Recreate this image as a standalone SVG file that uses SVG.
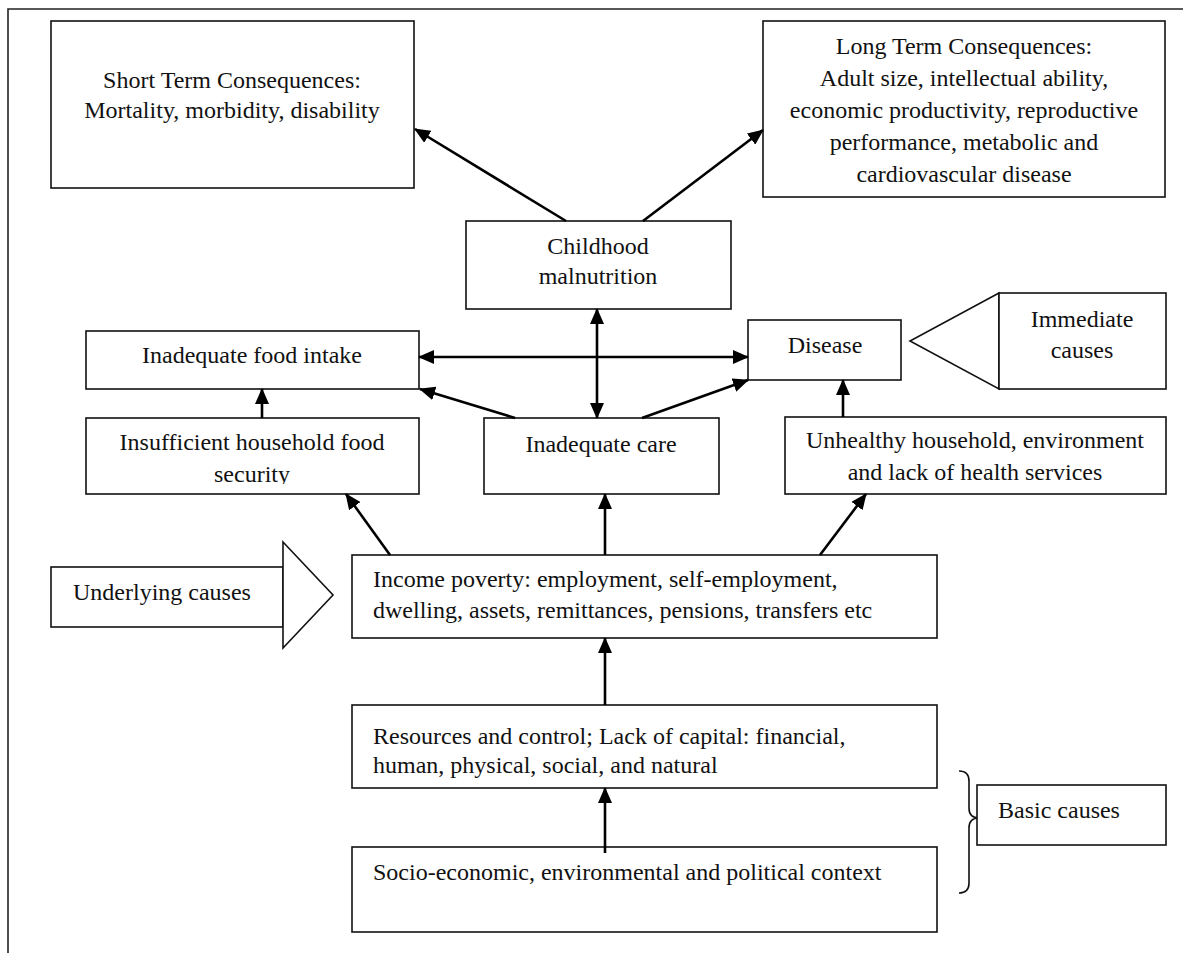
<svg xmlns="http://www.w3.org/2000/svg" width="1183" height="953" viewBox="0 0 1183 953">
<defs>
<style>
.box{fill:#fff;stroke:#111;stroke-width:1.6}
.t{font-family:"Liberation Serif","Times New Roman",serif;font-size:24px;fill:#111}
.c{text-anchor:middle}
.a{stroke:#000;stroke-width:2.6;fill:none;marker-end:url(#ah)}
.d{marker-start:url(#ah)}
</style>
<marker id="ah" markerUnits="userSpaceOnUse" markerWidth="16" markerHeight="14" refX="15" refY="7" orient="auto-start-reverse" viewBox="0 0 16 14">
<path d="M0,0 L16,7 L0,14 Z" fill="#000"/>
</marker>
<clipPath id="clipIns"><rect x="86" y="418" width="333" height="66"/></clipPath>
</defs>
<rect width="1183" height="953" fill="#fff"/>
<g id="frame"><path d="M8,953 L8,9 L1183,9" fill="none" stroke="#222" stroke-width="1.6"/></g>

<g id="short-term">
<rect class="box" x="51" y="21" width="363" height="167"/>
<text class="t c" x="232" y="88">Short Term Consequences:</text>
<text class="t c" x="232" y="118">Mortality, morbidity, disability</text>
</g>
<g id="long-term">
<rect class="box" x="763" y="21" width="402" height="176"/>
<text class="t c" x="964" y="54">Long Term Consequences:</text>
<text class="t c" x="964" y="86">Adult size, intellectual ability,</text>
<text class="t c" x="964" y="118">economic productivity, reproductive</text>
<text class="t c" x="964" y="150">performance, metabolic and</text>
<text class="t c" x="964" y="182">cardiovascular disease</text>
</g>
<g id="childhood">
<rect class="box" x="466" y="221" width="265" height="88"/>
<text class="t c" x="598" y="254">Childhood</text>
<text class="t c" x="598" y="284">malnutrition</text>
</g>
<g id="food-intake">
<rect class="box" x="86" y="331" width="333" height="58"/>
<text class="t c" x="252" y="363">Inadequate food intake</text>
</g>
<g id="disease">
<rect class="box" x="748" y="320" width="153" height="60"/>
<text class="t c" x="825" y="353">Disease</text>
</g>
<g id="immediate">
<polygon class="box" points="999,293 910,341 999,389"/>
<rect class="box" x="999" y="293" width="167" height="96"/>
<text class="t c" x="1082" y="327">Immediate</text>
<text class="t c" x="1082" y="358">causes</text>
</g>
<g id="food-security">
<rect class="box" x="86" y="418" width="333" height="76"/>
<g clip-path="url(#clipIns)">
<text class="t c" x="252" y="450">Insufficient household food</text>
<text class="t c" x="252" y="482">security</text>
</g>
</g>
<g id="care">
<rect class="box" x="484" y="418" width="235" height="76"/>
<text class="t c" x="601" y="452">Inadequate care</text>
</g>
<g id="unhealthy">
<rect class="box" x="785" y="417" width="381" height="77"/>
<text class="t c" x="975" y="448">Unhealthy household, environment</text>
<text class="t c" x="975" y="480">and lack of health services</text>
</g>
<g id="underlying">
<rect class="box" x="51" y="567" width="232" height="60"/>
<polygon class="box" points="283,542 333,595 283,648"/>
<text class="t" x="73" y="600">Underlying causes</text>
</g>
<g id="income">
<rect class="box" x="352" y="555" width="585" height="83"/>
<text class="t" x="373" y="587">Income poverty: employment, self-employment,</text>
<text class="t" x="373" y="618">dwelling, assets, remittances, pensions, transfers etc</text>
</g>
<g id="resources">
<rect class="box" x="352" y="705" width="585" height="83"/>
<text class="t" x="373" y="744">Resources and control; Lack of capital: financial,</text>
<text class="t" x="373" y="773">human, physical, social, and natural</text>
</g>
<g id="socio">
<rect class="box" x="352" y="847" width="585" height="85"/>
<text class="t" x="373" y="880">Socio-economic, environmental and political context</text>
</g>
<g id="basic">
<path d="M959,771 Q969,771 969,781 L969,808 Q969,818 979,818 Q969,818 969,828 L969,883 Q969,893 959,893" fill="none" stroke="#111" stroke-width="1.6"/>
<rect class="box" x="977" y="785" width="189" height="60"/>
<text class="t" x="998" y="818">Basic causes</text>
</g>

<g id="connectors">
<line class="a" x1="566" y1="221" x2="415" y2="129"/>
<line class="a" x1="643" y1="221" x2="763" y2="130"/>
<line class="a d" x1="419" y1="357" x2="748" y2="357"/>
<line class="a d" x1="597" y1="309" x2="597" y2="418"/>
<line class="a" x1="515" y1="418" x2="420" y2="389"/>
<line class="a" x1="642" y1="418" x2="748" y2="380"/>
<line class="a" x1="262" y1="418" x2="262" y2="389"/>
<line class="a" x1="843" y1="417" x2="843" y2="380"/>
<line class="a" x1="390" y1="555" x2="346" y2="494"/>
<line class="a" x1="605" y1="555" x2="605" y2="494"/>
<line class="a" x1="820" y1="555" x2="866" y2="494"/>
<line class="a" x1="605" y1="705" x2="605" y2="638"/>
<line class="a" x1="605" y1="853" x2="605" y2="788"/>
</g>
</svg>
